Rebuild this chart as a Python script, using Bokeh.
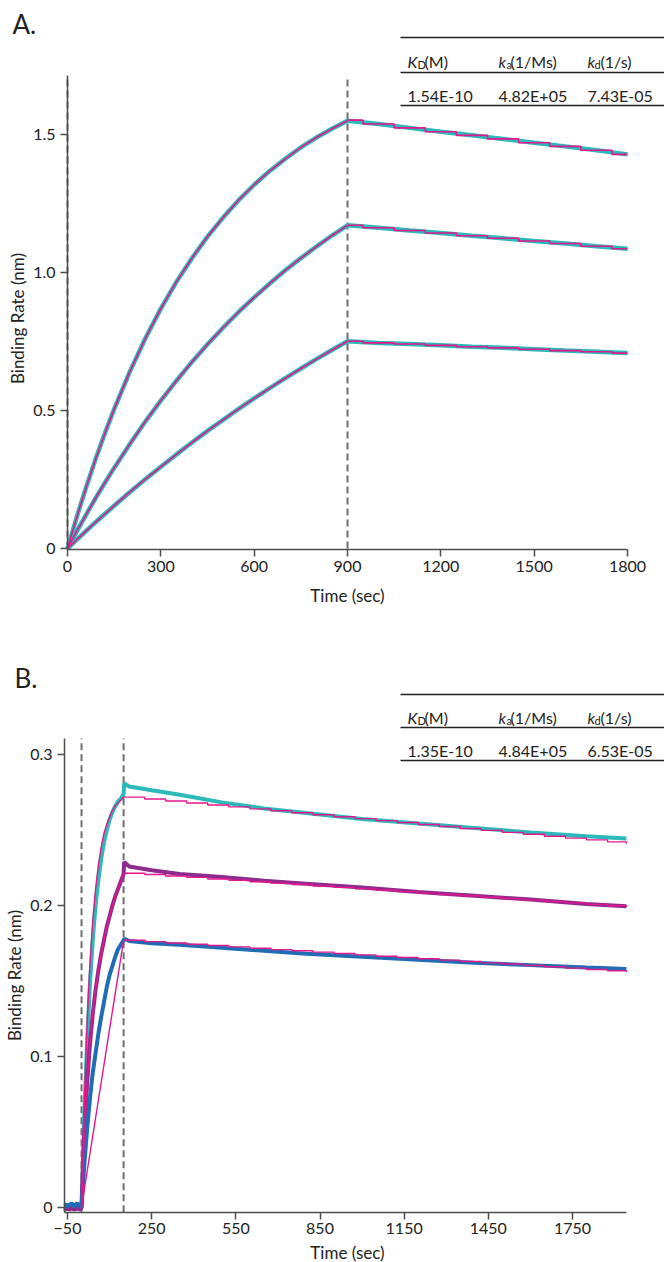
import math
from bokeh.plotting import figure
from bokeh.models import Range1d, FixedTicker, Label, LinearAxis
from bokeh.layouts import column
from bokeh.embed import file_html
from bokeh.resources import INLINE

# ---------------- data : panel A ----------------
tA_assoc = [0, 30, 60, 90, 120, 150, 200, 250, 300, 350, 400, 450, 500, 550,
            600, 650, 700, 750, 800, 850, 900]
A_high_assoc = [0.0, 0.115, 0.222, 0.323, 0.417, 0.505, 0.640, 0.761, 0.869, 0.966,
                1.052, 1.130, 1.199, 1.262, 1.318, 1.368, 1.412, 1.453, 1.489, 1.521, 1.550]
A_mid_assoc = [0.0, 0.063, 0.123, 0.182, 0.238, 0.292, 0.378, 0.460, 0.536, 0.608,
               0.676, 0.740, 0.800, 0.857, 0.910, 0.960, 1.008, 1.052, 1.094, 1.134, 1.171]
A_low_assoc = [0.0, 0.032, 0.064, 0.095, 0.125, 0.155, 0.204, 0.251, 0.296, 0.341,
               0.384, 0.426, 0.466, 0.506, 0.544, 0.581, 0.617, 0.652, 0.686, 0.719, 0.751]
tA_dissoc = [900, 1000, 1100, 1200, 1300, 1400, 1500, 1600, 1700, 1800]
A_high_dissoc = [1.552, 1.538, 1.524, 1.510, 1.497, 1.484, 1.470, 1.457, 1.443, 1.428]
A_mid_dissoc = [1.171, 1.162, 1.152, 1.143, 1.133, 1.124, 1.114, 1.105, 1.095, 1.086]
A_low_dissoc = [0.751, 0.745, 0.741, 0.736, 0.731, 0.727, 0.722, 0.717, 0.713, 0.708]
A_events = [0, 900]
A_xticks = [0, 300, 600, 900, 1200, 1500, 1800]
A_yticks = [0, 0.5, 1.0, 1.5]
A_ytick_labels = ["0", "0.5", "1.0", "1.5"]
table_head = ["K", "D", "(M)", "k", "a", " (1/Ms)", "k", "d", " (1/s)"]
A_table_vals = ["1.54E-10", "4.82E+05", "7.43E-05"]

# ---------------- data : panel B ----------------
tB_base = [-60, -55, -50, -45, -40, -35, -30, -25, -20, -15, -10, -5, 0]
B_high_base = [0.000, -0.001, 0.001, 0.000, -0.001, 0.000, 0.001, -0.001, 0.000, 0.001, 0.000, -0.001, 0.000]
B_mid_base = [-0.001, -0.002, 0.000, -0.002, -0.001, 0.000, -0.002, -0.001, -0.002, 0.000, -0.001, -0.002, 0.000]
B_low_base = [0.001, 0.002, 0.000, 0.002, 0.001, 0.003, 0.000, 0.002, 0.001, 0.003, 0.000, 0.002, 0.000]
tB_assoc = [0, 10, 20, 30, 40, 50, 60, 70, 80, 90, 100, 110, 120, 130, 140, 150]
B_high_assoc = [0.0, 0.062, 0.110, 0.148, 0.177, 0.200, 0.217, 0.231, 0.242, 0.250,
                0.257, 0.262, 0.266, 0.269, 0.271, 0.274]
B_mid_assoc = [0.0, 0.050, 0.082, 0.108, 0.128, 0.144, 0.157, 0.168, 0.177, 0.186,
               0.193, 0.200, 0.206, 0.211, 0.216, 0.221]
B_low_assoc = [0.0, 0.028, 0.052, 0.072, 0.089, 0.102, 0.115, 0.126, 0.136, 0.146,
               0.154, 0.160, 0.166, 0.171, 0.174, 0.177]
tB_dissoc = [150, 152, 170, 250, 350, 500, 650, 800, 1000, 1200, 1400, 1600, 1800, 1942]
B_high_dissoc = [0.274, 0.281, 0.279, 0.2765, 0.2735, 0.2685, 0.2645, 0.2615, 0.2575,
                 0.2545, 0.2515, 0.2485, 0.2460, 0.2445]
B_mid_dissoc = [0.221, 0.229, 0.226, 0.2235, 0.221, 0.219, 0.2165, 0.2145, 0.212,
                0.209, 0.2065, 0.204, 0.201, 0.1995]
B_low_dissoc = [0.177, 0.178, 0.1765, 0.175, 0.174, 0.172, 0.170, 0.168, 0.166,
                0.164, 0.162, 0.1605, 0.159, 0.158]
# fitted curves
tB_fit_assoc = [0, 10, 20, 30, 40, 50, 60, 70, 80, 90, 100, 110, 120, 130, 140, 150]
B_high_fit_assoc = [0.0, 0.070, 0.123, 0.161, 0.190, 0.211, 0.227, 0.239, 0.248, 0.254,
                    0.259, 0.263, 0.266, 0.268, 0.270, 0.272]
B_mid_fit_assoc = [0.0, 0.048, 0.082, 0.108, 0.128, 0.144, 0.157, 0.168, 0.177, 0.186,
                   0.193, 0.200, 0.206, 0.211, 0.216, 0.2215]
tB_low_fit_assoc = [0, 150]
B_low_fit_assoc = [0.0, 0.177]
tB_fit_dissoc = [150, 225, 300, 375, 450, 525, 600, 675, 750, 825, 900, 975, 1050,
                 1125, 1200, 1275, 1350, 1425, 1500, 1575, 1650, 1725, 1800, 1875, 1942]
B_high_fit_dissoc = [0.2720, 0.2707, 0.2694, 0.2681, 0.2668, 0.2655, 0.2642, 0.2629,
                     0.2616, 0.2603, 0.2590, 0.2577, 0.2564, 0.2551, 0.2538, 0.2525,
                     0.2512, 0.2499, 0.2486, 0.2473, 0.2460, 0.2448, 0.2436, 0.2423, 0.2410]
B_mid_fit_dissoc = [0.2215, 0.2206, 0.2196, 0.2187, 0.2177, 0.2168, 0.2158, 0.2149,
                    0.2140, 0.2130, 0.2121, 0.2111, 0.2102, 0.2093, 0.2083, 0.2074,
                    0.2065, 0.2055, 0.2046, 0.2036, 0.2027, 0.2018, 0.2008, 0.1999, 0.1990]
B_low_fit_dissoc = [0.1770, 0.1761, 0.1752, 0.1744, 0.1735, 0.1726, 0.1717, 0.1708,
                    0.1700, 0.1691, 0.1682, 0.1673, 0.1664, 0.1656, 0.1647, 0.1638,
                    0.1629, 0.1620, 0.1612, 0.1603, 0.1594, 0.1585, 0.1576, 0.1568, 0.1560]
B_events = [0, 150]
B_xticks = [-50, 250, 550, 850, 1150, 1450, 1750]
B_yticks = [0, 0.1, 0.2, 0.3]
B_ytick_labels = ["0", "0.1", "0.2", "0.3"]
B_table_vals = ["1.35E-10", "4.84E+05", "6.53E-05"]

# ---------------- styles ----------------
FONT = "Lato"
TEXT = "#222222"
AXIS = "#4d4d4d"
TEAL = "#2bbab9"
PURPLE = "#8d2b8e"
BLUE = "#1f6eb5"
MAGENTA = "#e6168c"
DASH = "#6e6e6e"
W = 664
H_A = 610
H_B = 1262 - H_A
FS = "16px"
FS_AXIS = "17px"


def make_fig(height, xr, yr):
    p = figure(width=W, height=height, x_range=Range1d(*xr), y_range=Range1d(*yr),
               output_backend="svg", toolbar_location=None, title=None,
               x_axis_location=None, y_axis_location=None,
               min_border_left=0, min_border_right=0, min_border_top=0,
               min_border_bottom=0)
    p.grid.visible = False
    p.outline_line_color = None
    return p


def style_axis(ax):
    ax.axis_line_color = AXIS
    ax.axis_line_width = 1.5
    ax.major_tick_line_color = AXIS
    ax.major_tick_line_width = 1.5
    ax.major_tick_in = 0
    ax.major_tick_out = 7
    ax.minor_tick_line_color = None
    ax.major_label_text_font = FONT
    ax.major_label_text_font_size = FS
    ax.major_label_text_color = TEXT


def add_axes(p, x_at, y_at, xb, yb, xticks, yticks, ylabels, xstand, ystand):
    xa = LinearAxis(fixed_location=x_at, bounds=xb, ticker=FixedTicker(ticks=xticks))
    style_axis(xa)
    xa.major_label_standoff = xstand
    ya = LinearAxis(fixed_location=y_at, bounds=yb, ticker=FixedTicker(ticks=yticks))
    style_axis(ya)
    ya.major_label_standoff = ystand
    ya.major_label_overrides = {k: v for k, v in zip(yticks, ylabels)}
    p.add_layout(xa, "below")
    p.add_layout(ya, "left")


def label(p, x, y, text, size=FS, align="left", baseline="middle", angle=0.0,
          style="normal"):
    p.add_layout(Label(x=x, y=y, text=text, text_font=FONT, text_font_size=size,
                       text_align=align, text_baseline=baseline, angle=angle,
                       text_color=TEXT, text_font_style=style))


def table(p, X, Y, rows_y, head_y, val_y, vals):
    x_right = p.x_range.end
    p.segment(x0=[X(400)] * 3, x1=[x_right] * 3, y0=[Y(v) for v in rows_y],
              y1=[Y(v) for v in rows_y], line_color="#222222", line_width=1.3)
    hb = head_y + 6
    label(p, X(407), Y(hb), table_head[0], baseline="alphabetic", style="italic")
    label(p, X(417), Y(hb + 3), table_head[1], size="11px", baseline="alphabetic")
    label(p, X(424), Y(hb), table_head[2], baseline="alphabetic")
    label(p, X(498), Y(hb), table_head[3], baseline="alphabetic", style="italic")
    label(p, X(506), Y(hb + 3), table_head[4], size="11px", baseline="alphabetic")
    label(p, X(510), Y(hb), table_head[5], baseline="alphabetic")
    label(p, X(587), Y(hb), table_head[6], baseline="alphabetic", style="italic")
    label(p, X(594), Y(hb + 3), table_head[7], size="11px", baseline="alphabetic")
    label(p, X(600), Y(hb), table_head[8], baseline="alphabetic")
    vb = val_y + 6
    for xp, t in zip([407, 498, 587], vals):
        label(p, X(xp), Y(vb), t, baseline="alphabetic")


# ================= panel A (page pixels -> data) =================
A_SC = 560 / 1800.0
def AX(px): return (px - 67) / A_SC
def AY(py): return (548 - py) / 276.0

pa = make_fig(H_A, (AX(0), AX(W)), (AY(H_A), AY(0)))
add_axes(pa, AY(549.3), 0, (0, 1800), (AY(549.3), AY(75)), A_xticks, A_yticks,
         A_ytick_labels, 4, 5)

pa.segment(x0=A_events, x1=A_events, y0=[0] * 2, y1=[AY(75)] * 2, line_color=DASH,
           line_width=2, line_dash="7 4")
for ya, yd in [(A_high_assoc, A_high_dissoc), (A_mid_assoc, A_mid_dissoc),
               (A_low_assoc, A_low_dissoc)]:
    pa.line(tA_assoc + tA_dissoc[1:], ya + yd[1:], line_color=TEAL, line_width=4.5)
for ya, yd in [(A_high_assoc, A_high_dissoc), (A_mid_assoc, A_mid_dissoc),
               (A_low_assoc, A_low_dissoc)]:
    pa.line(tA_assoc, ya, line_color=MAGENTA, line_width=1.6)
    pa.step(tA_dissoc, yd, mode="center", line_color=MAGENTA, line_width=1.6)

label(pa, AX(12), AY(23), "A.", size="26px")
label(pa, AX(17), AY(318), "Binding Rate (nm)", size=FS_AXIS, align="center",
      angle=math.pi / 2)
label(pa, AX(347), AY(595), "Time (sec)", size=FS_AXIS, align="center")
table(pa, AX, AY, [37, 72, 105], 55, 89, A_table_vals)

# ================= panel B (page pixels -> data) =================
B_SC = 505 / 1800.0
def BX(px): return -50 + (px - 67) / B_SC
def BY(py): return (1206.5 - py) / 1507.0

pb = make_fig(H_B, (BX(0), BX(W)), (BY(1262), BY(H_A)))
add_axes(pb, BY(1211.7), BX(64), (BX(64), 1942), (BY(1211.7), BY(738)), B_xticks,
         B_yticks, B_ytick_labels, 4, 5)

pb.segment(x0=B_events, x1=B_events, y0=[BY(1211.7)] * 2, y1=[BY(738)] * 2,
           line_color=DASH, line_width=2, line_dash="7 4")
for col, yb, ya, yd in [(TEAL, B_high_base, B_high_assoc, B_high_dissoc),
                        (PURPLE, B_mid_base, B_mid_assoc, B_mid_dissoc),
                        (BLUE, B_low_base, B_low_assoc, B_low_dissoc)]:
    pb.line(tB_base + tB_assoc[1:] + tB_dissoc[1:], yb + ya[1:] + yd[1:],
            line_color=col, line_width=4)
for ta, ya, yd in [(tB_fit_assoc, B_high_fit_assoc, B_high_fit_dissoc),
                   (tB_fit_assoc, B_mid_fit_assoc, B_mid_fit_dissoc),
                   (tB_low_fit_assoc, B_low_fit_assoc, B_low_fit_dissoc)]:
    pb.line(ta, ya, line_color=MAGENTA, line_width=1.4)
    pb.step(tB_fit_dissoc, yd, mode="after", line_color=MAGENTA, line_width=1.4)

label(pb, BX(14), BY(677), "B.", size="26px")
label(pb, BX(14), BY(975), "Binding Rate (nm)", size=FS_AXIS, align="center",
      angle=math.pi / 2)
label(pb, BX(347), BY(1252), "Time (sec)", size=FS_AXIS, align="center")
table(pb, BX, BY, [694, 727, 760], 711, 744, B_table_vals)

layout = column(pa, pb, spacing=0)
open("out.html", "w").write(file_html(layout, INLINE))
